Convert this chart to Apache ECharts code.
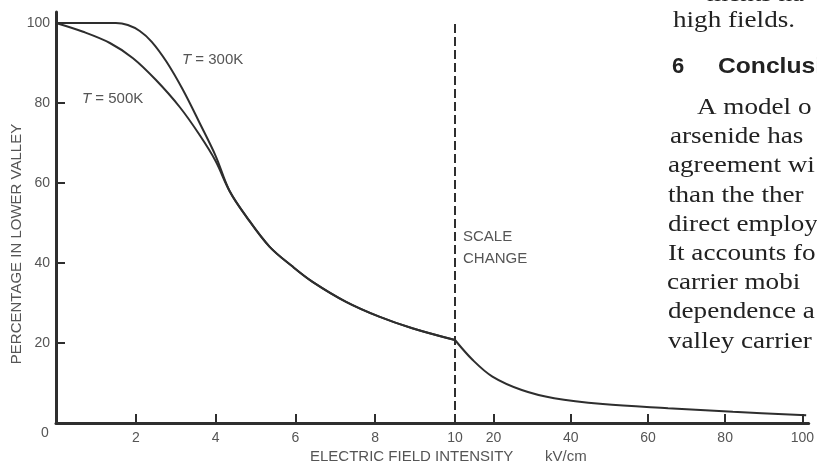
<!DOCTYPE html>
<html>
<head>
<meta charset="utf-8">
<script src="https://cdn.jsdelivr.net/npm/echarts@6/dist/echarts.min.js"></script>
<style>html,body{margin:0;padding:0;background:#fff}#c{width:817px;height:466px}</style>
</head>
<body>
<div id="c"></div>
<script>
// ---- data ----
// low-field region (linear 0..10 kV/cm)
const t300X = [0, 1.0, 1.5, 1.8, 2.1, 2.4, 2.77, 3.18, 3.6, 4.0];
const t300Y = [100, 100, 100, 99.5, 98, 95.3, 90.3, 83.3, 75, 66.8];
const t500X = [0, 0.68, 1.35, 1.93, 2.5, 3.1, 3.6, 4.0];
const t500Y = [100, 97.8, 95, 91.2, 85.8, 79, 72, 65.5];
// both temperatures coincide from here on
const commonX = [4.35, 4.77, 5.35, 5.93, 6.43, 7.27, 8.1, 8.93, 10];
const commonY = [58, 51.6, 44.1, 39.1, 35.3, 30.3, 26.6, 23.7, 20.75];
// high-field region (linear 10..100 kV/cm after the scale change)
const highX = [10, 14.6, 19.7, 27.3, 35.7, 48.3, 65.2, 82, 101];
const highY = [20.75, 15.75, 11.6, 8.25, 6.2, 4.75, 3.7, 2.8, 1.95];
// ticks
const lowTicks = [2, 4, 6, 8, 10];
const highTicks = [20, 40, 60, 80, 100];
const yTicks = [20, 40, 60, 80, 100];
const scaleChangeAt = 10;
const textLines = [
  'ments ha', 'high fields.',
  'A model o', 'arsenide has', 'agreement wi', 'than the ther', 'direct employ',
  'It accounts fo', 'carrier mobi', 'dependence a', 'valley carrier'
];

const zip = (xs, ys) => xs.map((x, i) => [x, ys[i]]);

const LINE = '#2e2e2e';
const LBL = '#555';
const SANS = '"Liberation Sans", Arial, sans-serif';
const SERIF = '"Liberation Serif", "Times New Roman", serif';

const chart = echarts.init(document.getElementById('c'), null, {renderer: 'canvas'});

const axisCommon = {
  axisLine: {show: true, lineStyle: {color: LINE, width: 3}},
  splitLine: {show: false}
};
const curve = {type: 'line', smooth: 0.35, showSymbol: false,
  lineStyle: {color: LINE, width: 2}};

const pageText = (t, x, y) => ({type: 'text', x: x, y: y, scaleX: 1.13,
  style: {text: t, fill: '#222', font: '24px ' + SERIF, verticalAlign: 'middle'}});

const option = {
  animation: false,
  backgroundColor: '#fff',
  grid: [
    {left: 56, top: 12, width: 399, height: 411, containLabel: false},
    {left: 455, top: 12, width: 362, height: 411, containLabel: false}
  ],
  xAxis: [
    Object.assign({
      type: 'value', gridIndex: 0, min: 0, max: 10, interval: 2,
      axisTick: {show: true, inside: true, length: 9, lineStyle: {color: LINE, width: 2}, customValues: lowTicks},
      axisLabel: {color: LBL, fontSize: 14, fontFamily: SANS, margin: 8, customValues: lowTicks}
    }, axisCommon),
    Object.assign({
      type: 'value', gridIndex: 1, min: 10, max: 10 + 362 / 3.95,
      axisTick: {show: true, inside: true, length: 9, lineStyle: {color: LINE, width: 2}, customValues: highTicks},
      axisLabel: {color: LBL, fontSize: 14, fontFamily: SANS, margin: 8, customValues: highTicks}
    }, axisCommon)
  ],
  yAxis: [
    Object.assign({
      type: 'value', gridIndex: 0, min: 0, max: 102.75,
      axisTick: {show: true, inside: true, length: 9, lineStyle: {color: LINE, width: 2}, customValues: yTicks},
      axisLabel: {color: LBL, fontSize: 14, fontFamily: SANS, margin: 6, customValues: yTicks}
    }, axisCommon),
    {type: 'value', gridIndex: 1, min: 0, max: 102.75, show: false}
  ],
  series: [
    Object.assign({name: 'T = 300K', xAxisIndex: 0, yAxisIndex: 0,
      data: zip(t300X.concat(commonX), t300Y.concat(commonY))}, curve),
    Object.assign({name: 'T = 500K', xAxisIndex: 0, yAxisIndex: 0,
      data: zip(t500X.concat(commonX), t500Y.concat(commonY))}, curve),
    Object.assign({name: 'high field', xAxisIndex: 1, yAxisIndex: 1, data: zip(highX, highY),
      markLine: {silent: true, symbol: ['none', 'none'], label: {show: false},
        lineStyle: {color: LINE, width: 2, type: [9, 4]},
        data: [[{coord: [scaleChangeAt, 0]}, {coord: [scaleChangeAt, 100.75]}]]}}, curve)
  ],
  graphic: [
    {type: 'text', x: 45, y: 433, style: {text: '0', fill: LBL, font: '14px ' + SANS, align: 'center', verticalAlign: 'middle'}},
    {type: 'text', x: 17, y: 244, rotation: Math.PI / 2,
     style: {text: 'PERCENTAGE IN LOWER VALLEY', fill: LBL, font: '15px ' + SANS, align: 'center', verticalAlign: 'middle'}},
    {type: 'text', x: 310, y: 457, style: {text: 'ELECTRIC FIELD INTENSITY', fill: LBL, font: '15px ' + SANS, align: 'left', verticalAlign: 'middle'}},
    {type: 'text', x: 545, y: 457, style: {text: 'kV/cm', fill: LBL, font: '15px ' + SANS, align: 'left', verticalAlign: 'middle'}},
    {type: 'text', x: 463, y: 237, style: {text: 'SCALE', fill: LBL, font: '15px ' + SANS, align: 'left', verticalAlign: 'middle'}},
    {type: 'text', x: 463, y: 259, style: {text: 'CHANGE', fill: LBL, font: '15px ' + SANS, align: 'left', verticalAlign: 'middle'}},
    {type: 'text', x: 182, y: 60, style: {
      text: '{i|T} = 300K', fill: LBL, font: '15px ' + SANS, verticalAlign: 'middle',
      rich: {i: {fontStyle: 'italic', fontSize: 15, fontFamily: SANS, fill: LBL}}}},
    {type: 'text', x: 82, y: 99, style: {
      text: '{i|T} = 500K', fill: LBL, font: '15px ' + SANS, verticalAlign: 'middle',
      rich: {i: {fontStyle: 'italic', fontSize: 15, fontFamily: SANS, fill: LBL}}}},
    // surrounding page text from the scanned paper
    pageText(textLines[0], 707, -5),
    pageText(textLines[1], 673, 21),
    {type: 'text', x: 672, y: 67, style: {text: '6', fill: '#222', font: 'bold 22px ' + SANS, verticalAlign: 'middle'}},
    {type: 'text', x: 718, y: 67, scaleX: 1.12, style: {text: 'Conclusions', fill: '#222', font: 'bold 22px ' + SANS, verticalAlign: 'middle'}},
    pageText(textLines[2], 697, 108),
    pageText(textLines[3], 670, 137),
    pageText(textLines[4], 668, 166),
    pageText(textLines[5], 668, 196),
    pageText(textLines[6], 668, 225),
    pageText(textLines[7], 668, 254),
    pageText(textLines[8], 667, 283),
    pageText(textLines[9], 668, 312),
    pageText(textLines[10], 668, 342)
  ]
};
chart.setOption(option);
</script>
</body>
</html>
